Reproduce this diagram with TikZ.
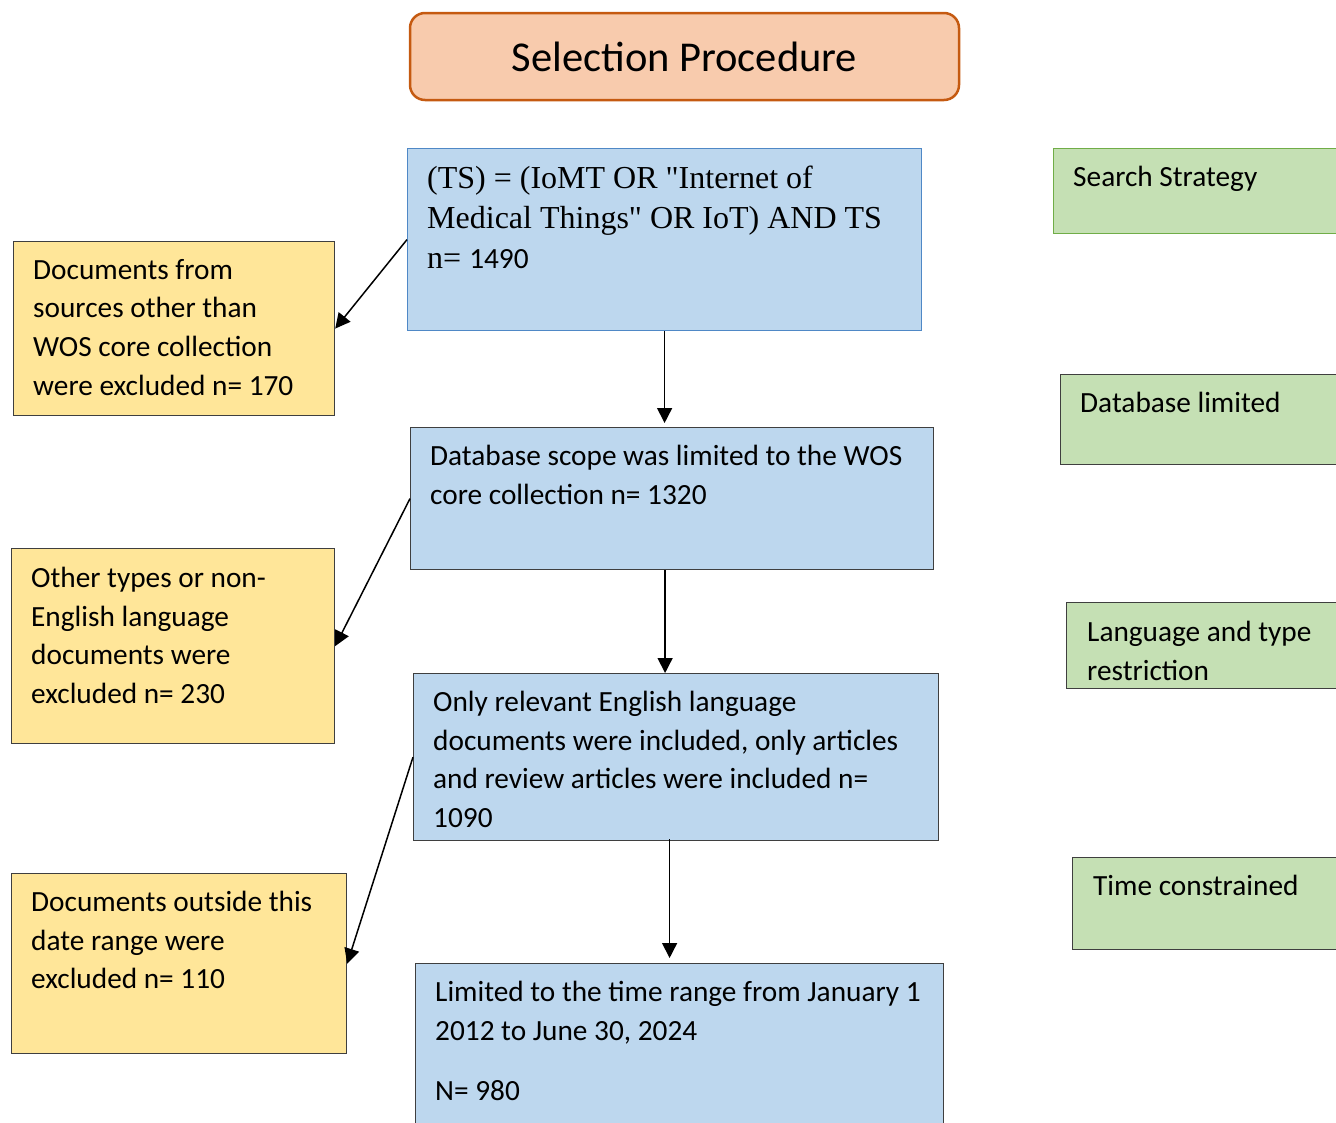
\documentclass[tikz,border=0pt]{standalone}
\usepackage{fontspec}
\setmainfont{Carlito}
\newfontfamily\timesfont{Liberation Serif}
\usetikzlibrary{arrows.meta}
\definecolor{peach}{HTML}{F8CBAD}
\definecolor{rust}{HTML}{C55A11}
\definecolor{paleblue}{HTML}{BDD7EE}
\definecolor{midblue}{HTML}{4F88C6}
\definecolor{paleyellow}{HTML}{FFE699}
\definecolor{palegreen}{HTML}{C5E0B4}
\definecolor{leafgreen}{HTML}{70AD47}
\definecolor{edgegray}{HTML}{3F3F3F}
\newcommand{\boxfont}{\normalfont\fontsize{29.3}{38.7}\selectfont}
\newcommand{\termfont}{\timesfont\fontsize{32}{40}\selectfont}
\newcommand{\titlefont}{\fontsize{42.5}{50}\selectfont}

\begin{document}
\begin{tikzpicture}[x=1pt,y=-1pt,>={Triangle[length=15pt,width=15pt]},
  box/.style={draw=edgegray,line width=1.2pt,anchor=north west,inner sep=0pt},
  stepbox/.style={box,fill=paleblue},
  outbox/.style={box,fill=paleyellow},
  notebox/.style={box,fill=palegreen},
  txt/.style={anchor=north west,inner sep=0pt,align=left,font=\boxfont,execute at begin node=\strut},
  arr/.style={->,line width=1.5pt,black}]
\useasboundingbox (0,0) rectangle (1336,1122);
\clip (0,0) rectangle (1336,1122);
% title
\node[draw=rust,fill=peach,line width=2.5pt,rounded corners=15pt,minimum width=549,minimum height=87,font=\titlefont] (title) at (684.5,56.5) {Selection Procedure};
% middle column
\node[stepbox,draw=midblue,minimum width=514,minimum height=182] (b1) at (407,148) {};
\node[stepbox,minimum width=523,minimum height=142] (b2) at (410,427) {};
\node[stepbox,minimum width=525,minimum height=167] (b3) at (413,673) {};
\node[stepbox,minimum width=528,minimum height=180] (b4) at (415,963) {};
\node[txt,font=\termfont] (b1t) at (427,166) {(TS) = (IoMT OR "Internet of\\Medical Things" OR IoT) AND TS\\n= {\boxfont 1490}};
\node[txt] (b2t) at (430,445) {Database scope was limited to the WOS\\core collection n= 1320};
\node[txt] (b3t) at (433,691) {Only relevant English language\\documents were included, only articles\\and review articles were included n=\\1090};
\node[txt] (b4t) at (435,981) {Limited to the time range from January 1\\2012 to June 30, 2024\\[21.3pt]N= 980};
% excluded
\node[outbox,minimum width=321,minimum height=174] (y1) at (13,241) {};
\node[outbox,minimum width=323,minimum height=195] (y2) at (11,548) {};
\node[outbox,minimum width=335,minimum height=180] (y3) at (11,873) {};
\node[txt] (y1t) at (33,259) {Documents from\\sources other than\\WOS core collection\\were excluded n= 170};
\node[txt] (y2t) at (31,567) {Other types or non-\\English language\\documents were\\excluded n= 230};
\node[txt] (y3t) at (31,891) {Documents outside this\\date range were\\excluded n= 110};
% notes on the right
\node[notebox,draw=leafgreen,minimum width=300,minimum height=85] (g1) at (1053,148) {};
\node[notebox,minimum width=300,minimum height=90] (g2) at (1060,374) {};
\node[notebox,minimum width=300,minimum height=86] (g3) at (1066,602) {};
\node[notebox,minimum width=300,minimum height=92] (g4) at (1072,857) {};
\node[txt] (g1t) at (1073,159) {Search Strategy};
\node[txt] (g2t) at (1080,385) {Database limited};
\node[txt] (g3t) at (1087,621) {Language and type\\restriction};
\node[txt] (g4t) at (1093,868) {Time constrained};
% arrows
\draw[arr,shorten >=4pt] (b1.south) -- (b1.south |- b2.north);
\draw[arr] ([xshift=-7pt]b2.south) -- ([xshift=-7pt]b2.south |- b3.north);
\draw[arr,shorten >=5pt] ([xshift=-6.5pt,yshift=2pt]b3.south) -- ([xshift=-6.5pt]b3.south |- b4.north);
\draw[arr] (b1.west) -- (y1.east);
\draw[arr] (b2.west) -- (y2.east);
\draw[arr] (b3.west) -- (y3.east);
\end{tikzpicture}
\end{document}
